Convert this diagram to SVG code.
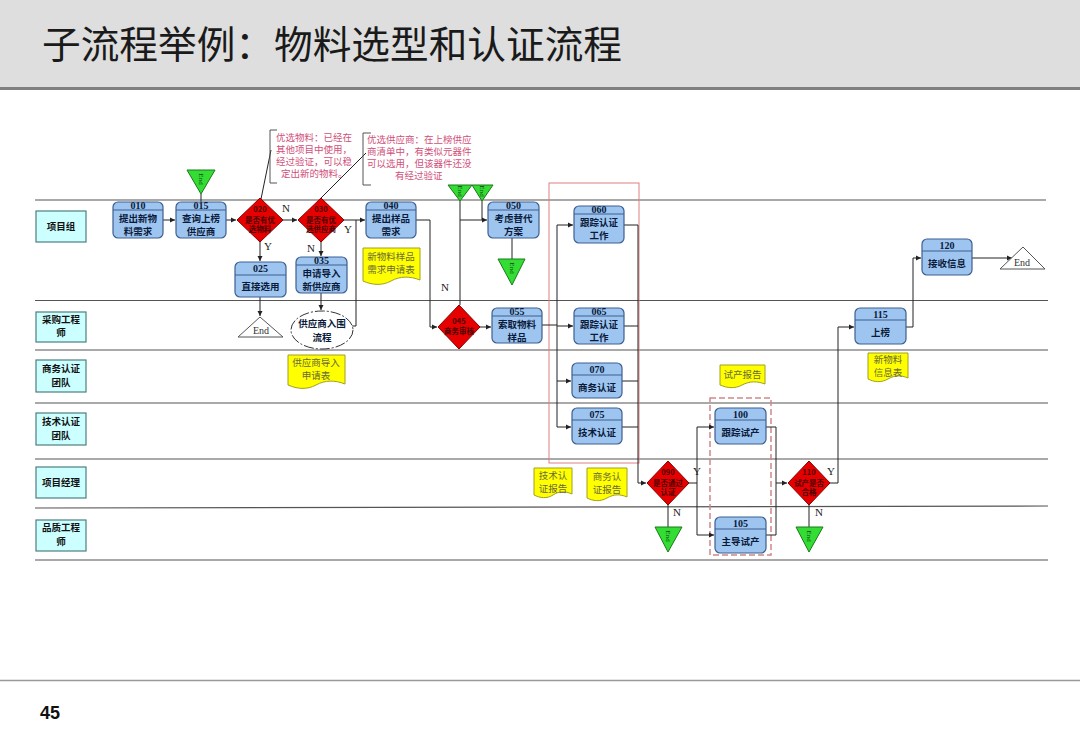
<svg xmlns="http://www.w3.org/2000/svg" width="1080" height="747" viewBox="0 0 1080 747">
<defs>
<marker id="arr" markerWidth="6" markerHeight="6" refX="5" refY="3" orient="auto" markerUnits="userSpaceOnUse">
<path d="M0,0.5 L5,3 L0,5.5 Z" fill="#222"/>
</marker>
<style>
.lane{stroke:#555;stroke-width:1.2;fill:none}
.lbl{fill:#ccffff;stroke:#4d7f7f;stroke-width:1.2}
.lblt{font-family:"Noto Sans CJK SC","Liberation Serif",serif;font-size:9.5px;font-weight:bold;fill:#111;text-anchor:middle}
.box{fill:#9ec5f0;stroke:#3d5f8f;stroke-width:1.2}
.div{stroke:#3d5f8f;stroke-width:1}
.num{font-family:"Liberation Serif",serif;font-size:10px;font-weight:bold;fill:#0a1a3a;text-anchor:middle}
.bt{font-family:"Noto Sans CJK SC",sans-serif;font-size:9.5px;font-weight:bold;fill:#0a1a3a;text-anchor:middle}
.dia{fill:#e60000;stroke:#8a0000;stroke-width:1}
.dt{font-family:"Noto Sans CJK SC",sans-serif;font-size:7.5px;font-weight:bold;fill:#4a0000;text-anchor:middle}
.gt{fill:#33dd33;stroke:#1a7a1a;stroke-width:1}
.gtt{font-family:"Liberation Serif",serif;font-size:7px;fill:#114411;text-anchor:middle}
.end{fill:#fff;stroke:#555;stroke-width:1}
.endt{font-family:"Liberation Serif",serif;font-size:10px;fill:#333;text-anchor:middle}
.doc{fill:#ffff00;stroke:#a0a020;stroke-width:1}
.doct{font-family:"Noto Sans CJK SC",sans-serif;font-size:9.5px;fill:#6a6a3a;text-anchor:middle}
.note{font-family:"Noto Sans CJK SC",sans-serif;font-size:9.5px;fill:#d0507a}
.yn{font-family:"Liberation Serif",serif;font-size:11px;fill:#222;text-anchor:middle}
.c{fill:none;stroke:#222;stroke-width:1}
.ca{fill:none;stroke:#222;stroke-width:1;marker-end:url(#arr)}
</style>
</defs>
<rect x="0" y="0" width="1080" height="747" fill="#fff"/>
<g id="header">
<rect x="0" y="0" width="1080" height="88" fill="#dedede"/>
<line x1="0" y1="88.5" x2="1080" y2="88.5" stroke="#808080" stroke-width="3"/>
<text x="42" y="58" font-family="Noto Sans CJK SC,sans-serif" font-size="38" fill="#1a1a1a" textLength="580" lengthAdjust="spacingAndGlyphs">子流程举例：物料选型和认证流程</text>
</g>
<g id="footer">
<line x1="0" y1="680.5" x2="1080" y2="680.5" stroke="#999" stroke-width="1.5"/>
<text x="40" y="719" font-family="Liberation Sans,sans-serif" font-size="18" font-weight="bold" fill="#111">45</text>
</g>
<g id="lanes">
<line class="lane" x1="35" y1="200" x2="1046" y2="200"/>
<line class="lane" x1="35" y1="300.5" x2="1048" y2="300.5"/>
<line class="lane" x1="35" y1="350" x2="1048" y2="350"/>
<line class="lane" x1="35" y1="403" x2="1048" y2="403"/>
<line class="lane" x1="35" y1="459" x2="1048" y2="459"/>
<line class="lane" x1="35" y1="508" x2="1048" y2="506"/>
<line class="lane" x1="35" y1="560" x2="1048" y2="560"/>
<rect class="lbl" x="36" y="211" width="50" height="31"/>
<text class="lblt" x="61" y="230">项目组</text>
<rect class="lbl" x="36" y="312" width="50" height="30"/>
<text class="lblt" x="61" y="322.5">采购工程</text><text class="lblt" x="61" y="336">师</text>
<rect class="lbl" x="36" y="360" width="50" height="32"/>
<text class="lblt" x="61" y="372">商务认证</text><text class="lblt" x="61" y="385.5">团队</text>
<rect class="lbl" x="36" y="413" width="50" height="32"/>
<text class="lblt" x="61" y="425">技术认证</text><text class="lblt" x="61" y="438.5">团队</text>
<rect class="lbl" x="36" y="467" width="50" height="31"/>
<text class="lblt" x="61" y="486">项目经理</text>
<rect class="lbl" x="36" y="520" width="50" height="31"/>
<text class="lblt" x="61" y="531">品质工程</text><text class="lblt" x="61" y="544.5">师</text>
</g>
<g id="frames">
<rect x="549" y="183" width="90" height="280" fill="none" stroke="#e08080" stroke-width="1"/>
<rect x="710" y="398" width="61" height="157" fill="none" stroke="#d08888" stroke-width="1.5" stroke-dasharray="6 3"/>
</g>
<g id="connectors">
<path class="ca" d="M163,220 H175"/>
<path class="c" d="M201,194 V202"/>
<path class="ca" d="M226,220 H236"/>
<path class="ca" d="M283,220 H297"/>
<path class="ca" d="M260,242 V261"/>
<path class="ca" d="M260,297 V316"/>
<path class="ca" d="M321,242 V256"/>
<path class="ca" d="M321,293 V310"/>
<path class="ca" d="M344,220 H365"/>
<path class="c" d="M352,326 H356 V220"/>
<path class="c" d="M261,199 L271,150"/>
<path class="c" d="M321,198 L366,153"/>
<path class="ca" d="M416,220 H430 V327 H437"/>
<path class="ca" d="M460,305 V220 H487"/>
<path class="c" d="M460,201 V220"/>
<path class="c" d="M482,201 V220"/>
<path class="c" d="M512,238 V259"/>
<path class="ca" d="M480,327 H491"/>
<path class="c" d="M542,325 H557 M557,225 V427"/>
<path class="ca" d="M557,225 H573"/>
<path class="ca" d="M557,326 H573"/>
<path class="ca" d="M557,381 H571"/>
<path class="ca" d="M557,427 H571"/>
<path class="c" d="M624,225 H638 M624,326 H638 M622,381 H638 M622,427 H638"/>
<path class="ca" d="M638,225 V483 H646"/>
<path class="c" d="M689,483 H697 M697,427 V535"/>
<path class="ca" d="M697,427 H714"/>
<path class="ca" d="M697,535 H714"/>
<path class="c" d="M668,505 V527"/>
<path class="c" d="M766,427 H776 V535 H766"/>
<path class="ca" d="M776,483 H787"/>
<path class="c" d="M809,505 V527"/>
<path class="ca" d="M830,483 H838 V327 H854"/>
<path class="ca" d="M906,327 H913 V258 H921"/>
<path class="ca" d="M972,258 H1012"/>
<text class="yn" x="286" y="212">N</text>
<text class="yn" x="268" y="250">Y</text>
<text class="yn" x="311" y="252" font-size="10">N</text>
<text class="yn" x="348" y="233">Y</text>
<text class="yn" x="445" y="291">N</text>
<text class="yn" x="697" y="475">Y</text>
<text class="yn" x="677" y="516">N</text>
<text class="yn" x="831" y="475">Y</text>
<text class="yn" x="819" y="516">N</text>
</g>
<g id="note1">
<path d="M277,130 H270 V183 H277" fill="none" stroke="#555" stroke-width="1"/>
<text class="note" x="276" y="141">优选物料：已经在</text>
<text class="note" x="276" y="153">其他项目中使用，</text>
<text class="note" x="276" y="165">经过验证，可以稳</text>
<text class="note" x="281" y="177">定出新的物料。</text>
</g>
<g id="note2">
<path d="M371,133 H363 V185 H371" fill="none" stroke="#555" stroke-width="1"/>
<text class="note" x="367" y="143">优选供应商：在上榜供应</text>
<text class="note" x="367" y="155">商清单中，有类似元器件</text>
<text class="note" x="367" y="167">可以选用，但该器件还没</text>
<text class="note" x="395" y="179">有经过验证</text>
</g>
<g id="n010"><rect class="box" x="113" y="202" width="50" height="36" rx="5"/><line class="div" x1="113" y1="210" x2="163" y2="210"/><text class="num" x="138" y="209">010</text><text class="bt" x="138" y="222">提出新物</text><text class="bt" x="138" y="235">料需求</text></g>
<g id="n015"><rect class="box" x="176" y="202" width="50" height="36" rx="5"/><line class="div" x1="176" y1="210" x2="226" y2="210"/><text class="num" x="201" y="209">015</text><text class="bt" x="201" y="222">查询上榜</text><text class="bt" x="201" y="235">供应商</text></g>
<g id="n025"><rect class="box" x="235" y="262" width="51" height="35" rx="5"/><line class="div" x1="235" y1="275" x2="286" y2="275"/><text class="num" x="260.5" y="272">025</text><text class="bt" x="260.5" y="290">直接选用</text></g>
<g id="n035"><rect class="box" x="296" y="257" width="51" height="36" rx="5"/><line class="div" x1="296" y1="265" x2="347" y2="265"/><text class="num" x="321.5" y="264">035</text><text class="bt" x="321.5" y="277">申请导入</text><text class="bt" x="321.5" y="290">新供应商</text></g>
<g id="n040"><rect class="box" x="366" y="202" width="50" height="36" rx="5"/><line class="div" x1="366" y1="210" x2="416" y2="210"/><text class="num" x="391" y="209">040</text><text class="bt" x="391" y="222">提出样品</text><text class="bt" x="391" y="235">需求</text></g>
<g id="n050"><rect class="box" x="488" y="202" width="51" height="36" rx="5"/><line class="div" x1="488" y1="210" x2="539" y2="210"/><text class="num" x="513.5" y="209">050</text><text class="bt" x="513.5" y="222">考虑替代</text><text class="bt" x="513.5" y="235">方案</text></g>
<g id="n055"><rect class="box" x="492" y="308" width="50" height="35" rx="5"/><line class="div" x1="492" y1="316" x2="542" y2="316"/><text class="num" x="517" y="315">055</text><text class="bt" x="517" y="327.5">索取物料</text><text class="bt" x="517" y="340.5">样品</text></g>
<g id="n060"><rect class="box" x="574" y="206" width="50" height="37" rx="5"/><line class="div" x1="574" y1="214" x2="624" y2="214"/><text class="num" x="599" y="213">060</text><text class="bt" x="599" y="226">跟踪认证</text><text class="bt" x="599" y="239">工作</text></g>
<g id="n065"><rect class="box" x="574" y="308" width="50" height="36" rx="5"/><line class="div" x1="574" y1="316" x2="624" y2="316"/><text class="num" x="599" y="315">065</text><text class="bt" x="599" y="328">跟踪认证</text><text class="bt" x="599" y="341">工作</text></g>
<g id="n070"><rect class="box" x="572" y="363" width="50" height="35" rx="5"/><line class="div" x1="572" y1="375" x2="622" y2="375"/><text class="num" x="597" y="373">070</text><text class="bt" x="597" y="391">商务认证</text></g>
<g id="n075"><rect class="box" x="572" y="408" width="50" height="36" rx="5"/><line class="div" x1="572" y1="420" x2="622" y2="420"/><text class="num" x="597" y="418">075</text><text class="bt" x="597" y="436">技术认证</text></g>
<g id="n100"><rect class="box" x="715" y="408" width="51" height="36" rx="5"/><line class="div" x1="715" y1="420" x2="766" y2="420"/><text class="num" x="740.5" y="418">100</text><text class="bt" x="740.5" y="436">跟踪试产</text></g>
<g id="n105"><rect class="box" x="715" y="517" width="51" height="36" rx="5"/><line class="div" x1="715" y1="529" x2="766" y2="529"/><text class="num" x="740.5" y="527">105</text><text class="bt" x="740.5" y="545">主导试产</text></g>
<g id="n115"><rect class="box" x="855" y="308" width="51" height="36" rx="5"/><line class="div" x1="855" y1="320" x2="906" y2="320"/><text class="num" x="880.5" y="318">115</text><text class="bt" x="880.5" y="336">上榜</text></g>
<g id="n120"><rect class="box" x="922" y="239" width="50" height="36" rx="5"/><line class="div" x1="922" y1="251" x2="972" y2="251"/><text class="num" x="947" y="249">120</text><text class="bt" x="947" y="267">接收信息</text></g>
<g id="d020"><polygon class="dia" points="260,198 283,220 260,242 237,220"/><text class="dt" x="260" y="212">020</text><text class="dt" x="260" y="222.5">是否有优</text><text class="dt" x="260" y="232">选物料</text></g>
<g id="d030"><polygon class="dia" points="321,198 344,220 321,242 298,220"/><text class="dt" x="321" y="212">030</text><text class="dt" x="321" y="222.5">是否有优</text><text class="dt" x="321" y="232">选供应商</text></g>
<g id="d045"><polygon class="dia" points="459,305 480,327 459,349 438,327"/><text class="dt" x="459" y="324">045</text><text class="dt" x="459" y="334">商务审核</text></g>
<g id="d090"><polygon class="dia" points="668,461 689,483 668,505 647,483"/><text class="dt" x="668" y="475">090</text><text class="dt" x="668" y="485.5">是否通过</text><text class="dt" x="668" y="495">认证</text></g>
<g id="d110"><polygon class="dia" points="809,461 830,483 809,505 788,483"/><text class="dt" x="809" y="475">110</text><text class="dt" x="809" y="485.5">试产是否</text><text class="dt" x="809" y="495">合格</text></g>
<g id="t1"><polygon class="gt" points="187,170 215,170 201,194"/><text class="gtt" transform="translate(201,179) rotate(90)" y="2.5">End</text></g>
<g id="t2"><polygon class="gt" points="448,185 472,185 460,201"/><text class="gtt" transform="translate(460,191) rotate(90)" y="2.5" font-size="6">End</text></g>
<g id="t3"><polygon class="gt" points="472,185 493,185 482,201"/><text class="gtt" transform="translate(482,191) rotate(90)" y="2.5" font-size="6">End</text></g>
<g id="t4"><polygon class="gt" points="498,259 525,259 512,285"/><text class="gtt" transform="translate(512,268) rotate(90)" y="2.5">End</text></g>
<g id="t5"><polygon class="gt" points="655,527 682,527 668,552"/><text class="gtt" transform="translate(668,536) rotate(90)" y="2.5">End</text></g>
<g id="t6"><polygon class="gt" points="796,527 823,527 809,552"/><text class="gtt" transform="translate(809,536) rotate(90)" y="2.5">End</text></g>
<g id="end1"><polygon class="end" points="260,317 283,337 238,337"/><text class="endt" x="261" y="334">End</text></g>
<g id="end2"><polygon class="end" points="1023,247 1045,269 1000,269"/><text class="endt" x="1022" y="266">End</text></g>
<g id="supplier"><ellipse cx="322" cy="330" rx="31" ry="19" fill="#fff" stroke="#333" stroke-width="1" stroke-dasharray="10 2 2 2"/><text class="bt" x="322" y="327" font-weight="normal" fill="#111">供应商入围</text><text class="bt" x="322" y="340.5" font-weight="normal" fill="#111">流程</text></g>
<g id="doc1"><path class="doc" d="M363,248 H420 V280 C410,276 400,276 391,281 C382,286 372,285 363,281 Z"/><text class="doct" x="391" y="260">新物料样品</text><text class="doct" x="391" y="273">需求申请表</text></g>
<g id="doc2"><path class="doc" d="M288,355 H345 V384 C335,380 325,380 316,385 C307,390 297,389 288,385 Z"/><text class="doct" x="316" y="366">供应商导入</text><text class="doct" x="316" y="379">申请表</text></g>
<g id="doc3"><path class="doc" d="M534,468 H572 V494 C565,491 559,491 553,495 C547,499 540,498 534,495 Z"/><text class="doct" x="553" y="479">技术认</text><text class="doct" x="553" y="492">证报告</text></g>
<g id="doc4"><path class="doc" d="M587,468 H627 V497 C620,494 614,494 607,498 C600,502 593,501 587,498 Z"/><text class="doct" x="607" y="480">商务认</text><text class="doct" x="607" y="493">证报告</text></g>
<g id="doc5"><path class="doc" d="M720,365 H765 V384 C757,381 750,381 742,385 C735,389 727,388 720,385 Z"/><text class="doct" x="742.5" y="378">试产报告</text></g>
<g id="doc6"><path class="doc" d="M868,353 H908 V378 C901,375 895,375 888,379 C881,383 874,382 868,379 Z"/><text class="doct" x="888" y="363">新物料</text><text class="doct" x="888" y="376">信息表</text></g>
</svg>
